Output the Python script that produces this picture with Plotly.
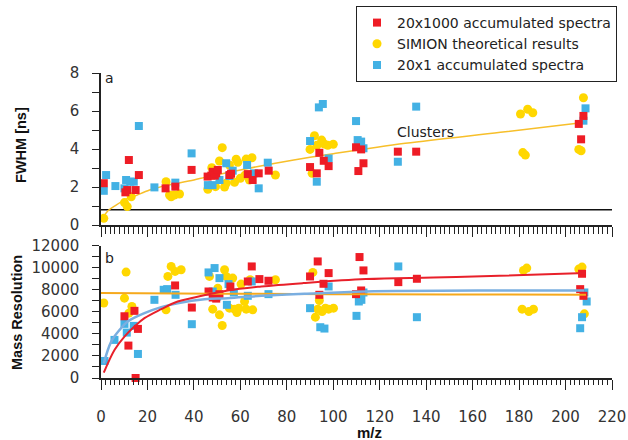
import plotly.graph_objects as go

# ---------------- data ----------------
# Panel a: FWHM [ns]
fwhm_red_x = [1.2, 10.5, 11.3, 12, 14.9, 16.3, 27.8, 32, 39, 45.9, 47.5, 48.1, 49, 49.6, 50.3,
              55.3, 56, 63.2, 65.3, 67.9, 72.2, 90, 92.9, 94, 95.9, 98, 109.8, 110.8, 112, 113,
              127.8, 135.7, 205.7, 206.7, 207.7]
fwhm_red_y = [2.2, 1.72, 1.84, 3.42, 1.84, 2.63, 1.93, 2.02, 2.9, 2.55, 2.6, 2.8, 2.6, 2.72, 2.9,
              2.63, 2.7, 2.68, 2.37, 2.72, 2.86, 3.05, 2.72, 3.8, 3.38, 3.1, 4.09, 2.84, 3.98, 3.25,
              3.86, 3.86, 5.32, 4.51, 5.74]

fwhm_sim_x = [1.2, 10.1, 11.3, 13, 28, 29.5, 30.2, 31.6, 33.8, 46, 47.7, 49.3, 51, 52.2, 53.2,
              53.9, 55.3, 57.5, 58.2, 58.9, 60, 62.5, 62, 63.9, 65, 75.1, 90, 90.9, 91.9, 93,
              95, 96.2, 97.6, 100, 180.6, 181.6, 182.7, 183.7, 185.9, 205.7, 206.7, 207.7]
fwhm_sim_y = [0.35, 1.18, 0.97, 1.49, 2.28, 1.58, 1.49, 1.58, 1.63, 1.88, 3.02, 2.02, 3.37, 4.07, 2.0,
              2.2, 3.16, 2.25, 3.46, 3.3, 2.46, 3.47, 2.62, 2.37, 3.54, 2.63, 3.98, 2.72, 4.7, 4.2,
              4.47, 4.26, 4.2, 4.25, 5.84, 3.81, 3.68, 6.09, 5.91, 3.98, 3.91, 6.7]

fwhm_blue_x = [1.2, 2.2, 6.2, 10.1, 10.8, 12.6, 14.1, 16.3, 23, 32, 39, 46, 48, 51, 53.9, 55.3,
               56.7, 62.9, 65.8, 67.9, 71.8, 90, 92.9, 93.8, 95.5, 98, 109.8, 110.5, 112, 113,
               127.8, 135.7, 207.7, 208.6]
fwhm_blue_y = [1.8, 2.63, 2.05, 1.93, 2.37, 2.28, 2.28, 5.21, 1.98, 2.23, 3.77, 2.1, 2.1, 2.37, 3.25, 2.58,
               2.86, 3.16, 2.72, 1.93, 3.28, 4.42, 2.28, 6.19, 6.37, 3.5, 5.47, 4.47, 4.39, 4.04,
               3.33, 6.23, 5.49, 6.14]

fwhm_fit_x = [1.2, 3, 6.5, 11.5, 13.7, 20.9, 26, 40, 45, 60, 83, 100, 131, 172, 205]
fwhm_fit_y = [0.44, 0.75, 1.05, 1.4, 1.49, 1.84, 2.02, 2.37, 2.52, 2.9, 3.42, 3.75, 4.3, 4.88, 5.35]

baseline_x = [0, 220]
baseline_y = [0.8, 0.8]

# Panel b: Mass resolution
res_red_x = [10.1, 11.8, 14.4, 14.9, 15.9, 31.9, 39.1, 46.3, 48.1, 49.6, 51, 55.7, 63.2, 64.9, 68.2,
             72.1, 90, 93.3, 94, 95.8, 98, 109.8, 111.3, 112, 113, 128, 136, 206.3, 207.1, 207.7]
res_red_y = [5600, 2940, 6090, 0, 4454, 8393, 6390, 7845, 7300, 7200, 7600, 8300, 8754, 10118, 8970,
             8818, 9209, 10572, 7545, 8545, 9515, 7606, 10970, 7939, 9757, 8696, 9000, 8060, 9454, 7454]

res_sim_x = [1.2, 10.1, 10.8, 12, 13.3, 28, 28.8, 30.2, 31.9, 34.5, 46.7, 48.1, 49.9, 50.3, 51, 52.2,
             53.2, 53.9, 55.3, 56.7, 57.5, 58.5, 59.3, 60.3, 61.8, 62.5, 64.2, 65.3, 75.1, 91.2,
             92.3, 93.3, 94, 95.2, 96.6, 98, 100.1, 181.3, 181.9, 183.3, 184.2, 186.2, 205.7,
             207.1, 208.1]
res_sim_y = [6800, 7242, 9606, 5878, 6484, 6181, 9212, 10118, 9666, 9818, 9212, 6242, 7393, 8150, 5727,
             4757, 9818, 9212, 6333, 9060, 6242, 5939, 6333, 8515, 6939, 6242, 8909, 6181, 8909,
             9575, 5515, 6242, 7030, 6030, 6333, 6242, 6333, 6242, 9757, 9970, 6030, 6242, 9878,
             10060, 5818]

res_blue_x = [1.5, 5.8, 10.1, 11.1, 14.1, 15.9, 23, 27, 28.5, 32.1, 39.1, 46.3, 48.1, 48.9, 50, 51,
              54.2, 54.9, 57.2, 63.2, 64.9, 72.1, 90, 94.4, 96.2, 98, 110, 111, 112.1, 113, 128,
              136, 206.3, 207.1, 208.1, 209.1]
res_blue_y = [1545, 3454, 4909, 4120, 4727, 2180, 7090, 8000, 8060, 7545, 4880, 9575, 7845, 9970, 7390,
              9060, 6636, 8515, 7757, 7454, 8757, 7606, 6333, 4606, 4485, 8300, 5636, 6939, 7090,
              7757, 10118, 5515, 4515, 5515, 7757, 6939]

res_fit_red_x = [1.2, 5.8, 10.1, 14.4, 18.7, 25.9, 33, 40.2, 54.6, 69, 87, 114, 143, 171.5, 208.5]
res_fit_red_y = [480, 2545, 3757, 4666, 5424, 6242, 6939, 7300, 7939, 8300, 8606, 8970, 9120, 9272, 9515]

res_fit_blue_x = [1.2, 4.4, 8, 11.5, 18.7, 25.9, 33, 44.6, 54.6, 69, 87.6, 114, 171.5, 208]
res_fit_blue_y = [1333, 3300, 4363, 5118, 5878, 6424, 6787, 7150, 7242, 7454, 7636, 7848, 7939, 7939]

res_fit_sim_x = [0, 50, 100, 150, 208.8]
res_fit_sim_y = [7700, 7650, 7600, 7580, 7550]

# ---------------- styles ----------------
RED = "#ee1c25"
YEL = "#ffd700"
BLUE = "#43b1e4"
FONT = "DejaVu Sans"

fig = go.Figure()

# panel a
fig.add_trace(go.Scatter(x=baseline_x, y=baseline_y, mode="lines", line=dict(color="#111", width=1.5),
                         xaxis="x", yaxis="y", showlegend=False, hoverinfo="skip"))
fig.add_trace(go.Scatter(x=fwhm_fit_x, y=fwhm_fit_y, mode="lines", line=dict(color="#f7bf2a", width=1.5, shape="spline"),
                         xaxis="x", yaxis="y", showlegend=False))
fig.add_trace(go.Scatter(x=fwhm_sim_x, y=fwhm_sim_y, mode="markers", name="SIMION theoretical results",
                         marker=dict(symbol="circle", size=9, color=YEL), xaxis="x", yaxis="y",
                         legendrank=2, cliponaxis=False))
fig.add_trace(go.Scatter(x=fwhm_blue_x, y=fwhm_blue_y, mode="markers", name="20x1 accumulated spectra",
                         marker=dict(symbol="square", size=8, color=BLUE), xaxis="x", yaxis="y",
                         legendrank=3, cliponaxis=False))
fig.add_trace(go.Scatter(x=fwhm_red_x, y=fwhm_red_y, mode="markers", name="20x1000 accumulated spectra",
                         marker=dict(symbol="square", size=8, color=RED), xaxis="x", yaxis="y",
                         legendrank=1, cliponaxis=False))

# panel b
fig.add_trace(go.Scatter(x=res_sim_x, y=res_sim_y, mode="markers", marker=dict(symbol="circle", size=9, color=YEL),
                         xaxis="x2", yaxis="y2", showlegend=False, cliponaxis=False))
fig.add_trace(go.Scatter(x=res_blue_x, y=res_blue_y, mode="markers", marker=dict(symbol="square", size=8, color=BLUE),
                         xaxis="x2", yaxis="y2", showlegend=False, cliponaxis=False))
fig.add_trace(go.Scatter(x=res_red_x, y=res_red_y, mode="markers", marker=dict(symbol="square", size=8, color=RED),
                         xaxis="x2", yaxis="y2", showlegend=False, cliponaxis=False))
fig.add_trace(go.Scatter(x=res_fit_sim_x, y=res_fit_sim_y, mode="lines", line=dict(color="#f6a91c", width=2, shape="spline"),
                         xaxis="x2", yaxis="y2", showlegend=False))
fig.add_trace(go.Scatter(x=res_fit_blue_x, y=res_fit_blue_y, mode="lines", line=dict(color="#7aaee0", width=2.5, shape="spline"),
                         xaxis="x2", yaxis="y2", showlegend=False))
fig.add_trace(go.Scatter(x=res_fit_red_x, y=res_fit_red_y, mode="lines", line=dict(color="#e8202a", width=2, shape="spline"),
                         xaxis="x2", yaxis="y2", showlegend=False))

axis_common = dict(showline=True, linecolor="#222", linewidth=1.5, showgrid=False, zeroline=False,
                   ticks="outside", tickcolor="#222", tickwidth=1.2,
                   tickfont=dict(family=FONT, size=15, color="#333"))

fig.update_layout(
    width=628, height=440,
    margin=dict(l=101, r=16, t=73, b=62, autoexpand=False),
    paper_bgcolor="white", plot_bgcolor="white",
    font=dict(family=FONT, size=14, color="#222"),
    xaxis=dict(domain=[0, 1], range=[0, 220], anchor="y", tick0=0, dtick=20, showticklabels=False,
               ticklen=10, minor=dict(dtick=2, ticks="outside", ticklen=7, tickcolor="#222", tickwidth=1), **axis_common),
    yaxis=dict(domain=[0.5016, 1.0], range=[0, 8], anchor="x", tick0=0, dtick=2, ticklen=7,
               minor=dict(dtick=1, ticks="outside", ticklen=7, tickcolor="#222", tickwidth=1),
               ticklabelstandoff=10, **axis_common),
    xaxis2=dict(domain=[0, 1], range=[0, 220], anchor="y2", tick0=0, dtick=20, ticklen=10,
                minor=dict(dtick=2, ticks="outside", ticklen=5, tickcolor="#222", tickwidth=1),
                ticklabelstandoff=14, **axis_common),
    yaxis2=dict(domain=[0, 0.4338], range=[0, 12000], anchor="x2", tick0=0, dtick=2000, ticklen=7,
                tickformat="d",
                minor=dict(dtick=1000, ticks="outside", ticklen=7, tickcolor="#222", tickwidth=1),
                ticklabelstandoff=10, **axis_common),
    legend=dict(x=1.0098, y=1.2197, xanchor="right", yanchor="top", bordercolor="#222", borderwidth=1,
                bgcolor="white", font=dict(family=FONT, size=14, color="#222"), tracegroupgap=0),
    annotations=[
        dict(text="<b>FWHM [ns]</b>", x=-0.1566, y=0.764, xref="paper", yref="paper", textangle=-90, showarrow=False,
             font=dict(family="Liberation Sans", size=14.5, color="#111"), xanchor="center", yanchor="middle"),
        dict(text="<b>Mass Resolution</b>", x=-0.1644, y=0.2164, xref="paper", yref="paper", textangle=-90,
             showarrow=False, font=dict(family="Liberation Sans", size=14.5, color="#111"),
             xanchor="center", yanchor="middle"),
        dict(text="<b>m/z</b>", x=0.5245, y=-0.178, xref="paper", yref="paper", showarrow=False,
             font=dict(family="Liberation Sans", size=15, color="#111"), xanchor="center", yanchor="middle"),
        dict(text="a", x=0.0176, y=0.9836, xref="paper", yref="paper", showarrow=False,
             font=dict(family=FONT, size=14, color="#222"), xanchor="center", yanchor="middle"),
        dict(text="b", x=0.0176, y=0.393, xref="paper", yref="paper", showarrow=False,
             font=dict(family=FONT, size=14, color="#222"), xanchor="center", yanchor="middle"),
        dict(text="Clusters", x=139.5, y=4.9, xref="x", yref="y", showarrow=False,
             font=dict(family=FONT, size=14, color="#222"), xanchor="center", yanchor="middle"),
    ],
)

fig.write_html("out.html", config={"displayModeBar": False},
               post_script="document.body.style.margin='0px';document.body.style.padding='0px';")
